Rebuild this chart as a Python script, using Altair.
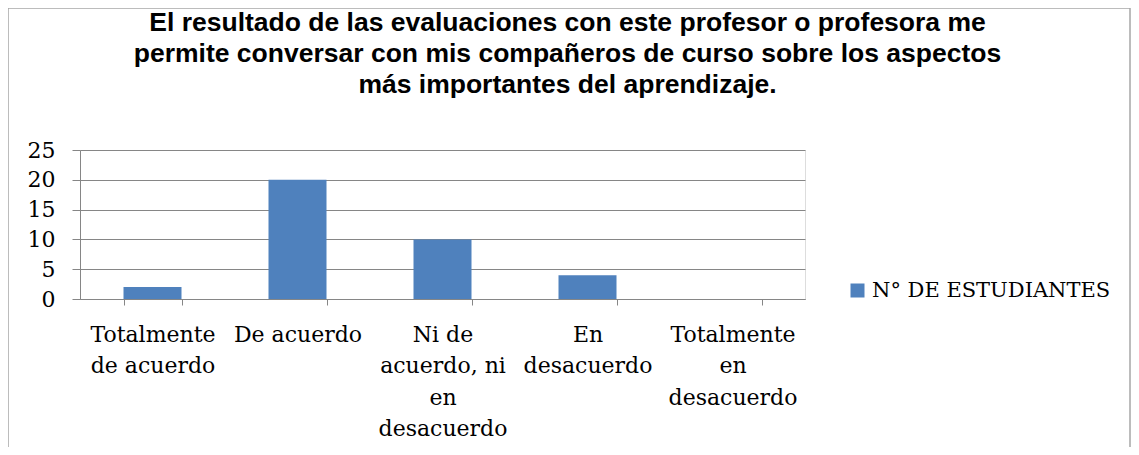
import altair as alt
import pandas as pd

categories = [
    "Totalmente\nde acuerdo",
    "De acuerdo",
    "Ni de\nacuerdo, ni\nen\ndesacuerdo",
    "En\ndesacuerdo",
    "Totalmente\nen\ndesacuerdo",
]
values = [2, 20, 10, 4, 0]
series_name = "N° DE ESTUDIANTES"
title_lines = [
    "El resultado de las evaluaciones con este profesor o profesora me",
    "permite conversar con mis compañeros de curso sobre los aspectos",
    "más importantes del aprendizaje.",
]
y_ticks = [0, 5, 10, 15, 20, 25]

df = pd.DataFrame({"cat": categories, "val": values, "serie": [series_name] * len(values)})

W, H = 725, 149
grid = "#868686"

bars = alt.Chart(df).mark_bar(color="#4F81BD").encode(
    x=alt.X("cat:N", sort=categories, title=None,
            scale=alt.Scale(paddingInner=0.6, paddingOuter=0.3),
            axis=alt.Axis(labelExpr="split(datum.label, '\\n')", labelAngle=0,
                          labelFont="DejaVu Serif", labelFontSize=22, labelColor="black",
                          labelLineHeight=31.5, labelPadding=19, labelBaseline="top",
                          tickBand="extent", tickSize=6, tickColor=grid, domainColor=grid,
                          grid=False, labelLimit=300)),
    y=alt.Y("val:Q", title=None,
            scale=alt.Scale(domain=[0, 25], nice=False),
            axis=alt.Axis(values=y_ticks, labelFont="DejaVu Serif", labelFontSize=22,
                          labelColor="black", labelPadding=17, tickSize=8, tickColor=grid,
                          domainColor=grid, grid=True, gridColor=grid)),
    color=alt.Color("serie:N", scale=alt.Scale(range=["#4F81BD"]),
                    legend=alt.Legend(title=None, orient="none", legendX=767, legendY=130,
                                      symbolType="square", symbolSize=196,
                                      symbolStrokeWidth=0,
                                      labelFont="DejaVu Serif", labelFontSize=21,
                                      labelColor="black", labelLimit=400)),
)

border = alt.Chart(pd.DataFrame({"a": [0]})).mark_rect(
    fill=None, stroke="#A6A6A6", strokeWidth=1.5
).encode(x=alt.value(-72), x2=alt.value(1050), y=alt.value(-142), y2=alt.value(300))

chart = alt.layer(border, bars).properties(
    width=W, height=H,
    title=alt.Title(title_lines, anchor="middle", dx=125, offset=-91,
                    font="Liberation Sans", fontSize=26.5, fontWeight="bold",
                    lineHeight=31, color="black"),
    autosize=alt.AutoSizeParams(type="none"),
    padding={"left": 72, "top": 142, "right": 326, "bottom": 148},
).configure_view(stroke=None).configure(background="white")

chart.save("out.html", embed_options={"renderer": "svg", "actions": False})
